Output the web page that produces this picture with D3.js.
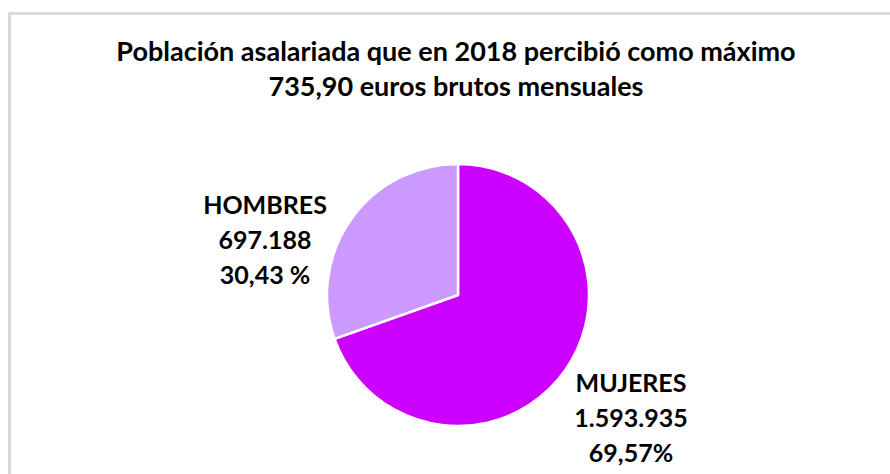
<!DOCTYPE html>
<html><head><meta charset="utf-8">
<script src="https://cdn.jsdelivr.net/npm/d3@7"></script>
<style>body{margin:0;background:#fff}svg{display:block}text{font-family:Lato,"Open Sans",sans-serif;font-weight:bold;fill:#000}</style>
</head><body>
<script>
const categories = ["MUJERES", "HOMBRES"];
const values = [1593935, 697188];
const valueLabels = ["1.593.935", "697.188"];
const percentLabels = ["69,57%", "30,43 %"];
const titleLines = ["Población asalariada que en 2018 percibió como máximo", "735,90 euros brutos mensuales"];
const colors = ["#CC00FF", "#CC99FF"];

const W = 890, H = 474;
const svg = d3.select("body").append("svg").attr("width", W).attr("height", H);
svg.append("rect").attr("x", 9.5).attr("y", 13.5).attr("width", 900).attr("height", 500)
  .attr("fill", "#fff").attr("stroke", "#d9d9d9").attr("stroke-width", 3);

const title = svg.append("g");
title.selectAll("text").data(titleLines).join("text")
  .attr("x", 456).attr("y", (d, i) => 61 + i * 35)
  .attr("text-anchor", "middle").attr("font-size", 27).text(d => d);

const cx = 458, cy = 295, r = 131;
const pie = d3.pie().sort(null).value(d => d)(values);
const arc = d3.arc().innerRadius(0).outerRadius(r);
const color = d3.scaleOrdinal().domain(categories).range(colors);
const g = svg.append("g").attr("transform", `translate(${cx},${cy})`);
g.selectAll("path").data(pie).join("path")
  .attr("d", arc).attr("fill", (d, i) => color(categories[i]))
  .attr("stroke", "#fff").attr("stroke-width", 2.5).attr("stroke-linejoin", "round");

const labelPos = [[631, 392], [265, 214]];
categories.forEach((c, i) => {
  const lines = [c, valueLabels[i], percentLabels[i]];
  svg.append("g").selectAll("text").data(lines).join("text")
    .attr("x", labelPos[i][0]).attr("y", (d, j) => labelPos[i][1] + j * 35)
    .attr("text-anchor", "middle").attr("font-size", 25).text(d => d);
});
</script>
</body></html>
